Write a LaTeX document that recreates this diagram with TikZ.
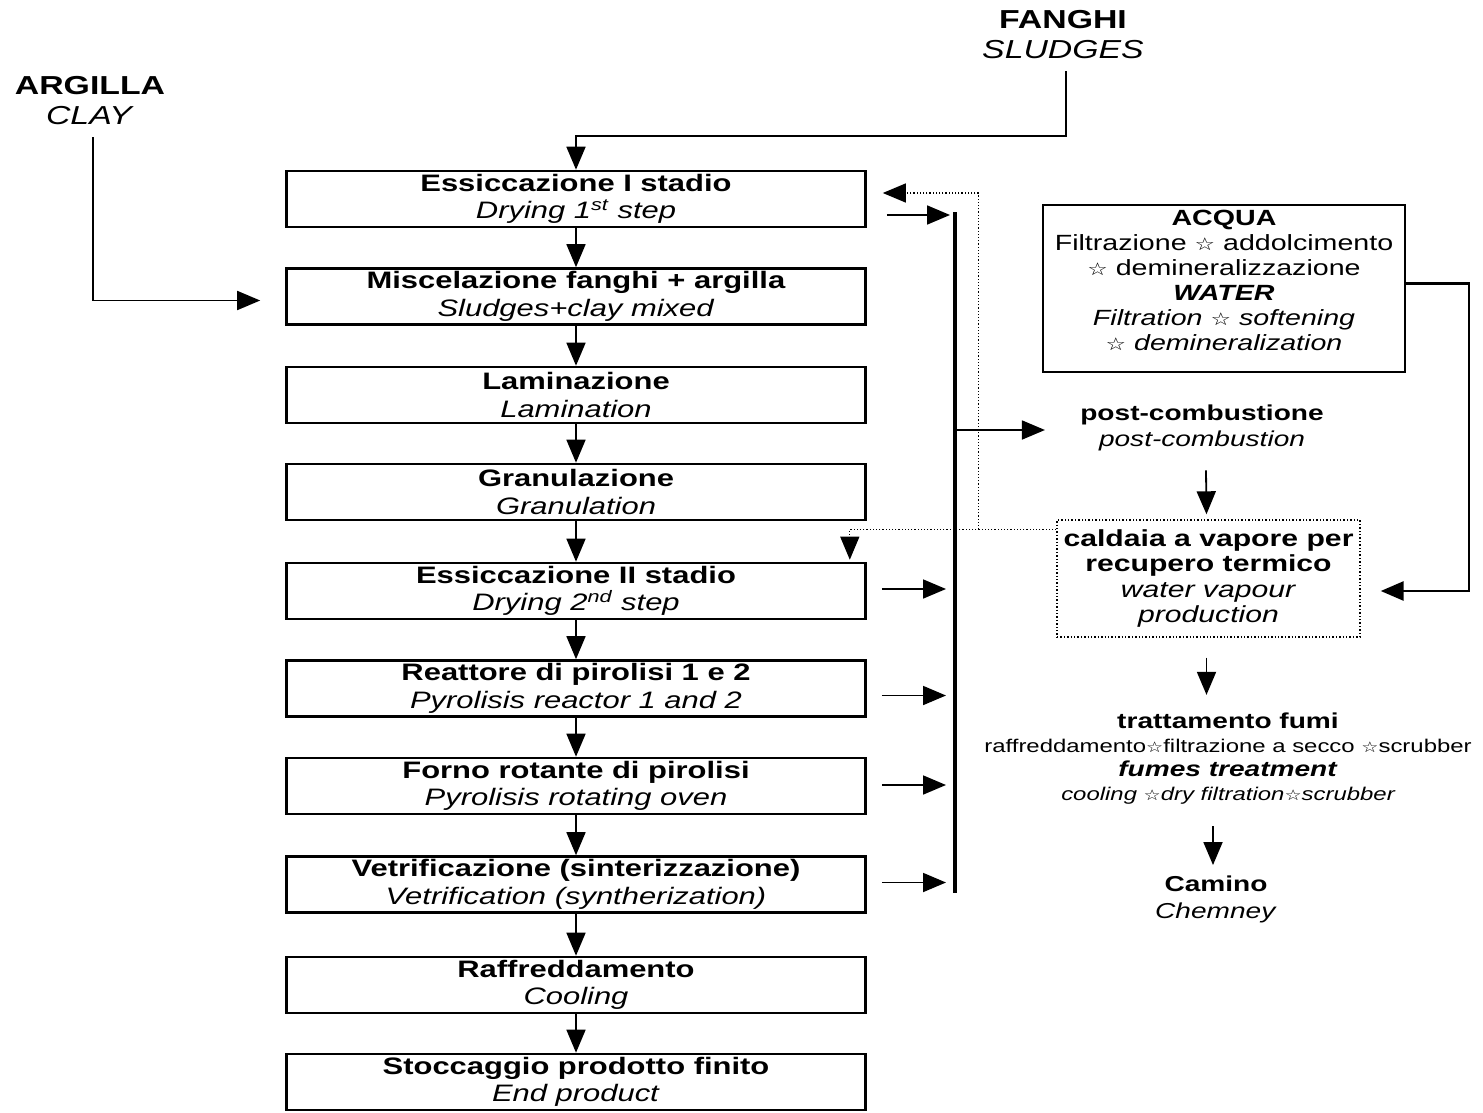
\documentclass[tikz,border=0pt]{standalone}
\usepackage{fontspec}
\usepackage{graphicx}
\setmainfont{Liberation Sans}[FakeStretch=1.3]
\newfontfamily\symf{DejaVu Sans}[FakeStretch=1.3]
\newcommand{\strs}{{\symf\scalebox{0.8}{☆}}}
\usetikzlibrary{arrows.meta,calc}
\tikzset{
  box/.style={draw, line width=1.3pt, minimum width=289.5pt, minimum height=28pt, inner sep=0pt, align=center, font=\fontsize{11.9}{13.7}\selectfont},
  lbl/.style={align=center, inner sep=0pt},
  tip/.style={-{Triangle[length=11.5pt,width=9.5pt]}},
  arr/.style={tip, line width=0.9pt},
  varr/.style={tip, line width=0.8pt},
  dotarr/.style={tip, densely dotted, line width=0.6pt},
  warr/.style={tip, line width=1.4pt},
  coll/.style={line width=1.6pt},
}
\begin{document}
\begin{tikzpicture}[x=0.5pt,y=-0.5pt]
\useasboundingbox[fill=white] (0,0) rectangle (1483,1113);

% inputs
\node[lbl, anchor=north, font=\fontsize{13}{15}\selectfont] (clay) at (90,76) {\textbf{ARGILLA}\\\textit{CLAY}};
\node[lbl, anchor=north, font=\fontsize{13}{15}\selectfont] (sludges) at (1063,10) {\textbf{FANGHI}\\\textit{SLUDGES}};

% main chain
\node[box] (b1) at (576,199) {\textbf{Essiccazione I stadio}\\\textit{Drying 1\textsuperscript{st} step}};
\node[box] (b2) at (576,296.5) {\textbf{Miscelazione fanghi + argilla}\\\textit{Sludges+clay mixed}};
\node[box] (b3) at (576,395) {\textbf{Laminazione}\\\textit{Lamination}};
\node[box] (b4) at (576,492) {\textbf{Granulazione}\\\textit{Granulation}};
\node[box] (b5) at (576,591) {\textbf{Essiccazione II stadio}\\\textit{Drying 2\textsuperscript{nd} step}};
\node[box] (b6) at (576,688.5) {\textbf{Reattore di pirolisi 1 e 2}\\\textit{Pyrolisis reactor 1 and 2}};
\node[box] (b7) at (576,786) {\textbf{Forno rotante di pirolisi}\\\textit{Pyrolisis rotating oven}};
\node[box] (b8) at (576,884.5) {\textbf{Vetrificazione (sinterizzazione)}\\\textit{Vetrification (syntherization)}};
\node[box] (b9) at (576,985) {\textbf{Raffreddamento}\\\textit{Cooling}};
\node[box] (b10) at (576,1082) {\textbf{Stoccaggio prodotto finito}\\\textit{End product}};

% right side
\node[draw, line width=1pt, minimum width=181pt, minimum height=83.5pt, inner sep=0pt, text depth=8pt, align=center, font=\fontsize{11}{12.5}\selectfont] (water) at (1224,288.5)
  {\textbf{ACQUA}\\Filtrazione \strs\ addolcimento\\\strs\ demineralizzazione\\\textbf{\textit{WATER}}\\\textit{Filtration \strs\ softening}\\\textit{\strs\ demineralization}};
\node[lbl, font=\fontsize{10.8}{13}\selectfont] (post) at (1202,428) {\textbf{post-combustione}\\\textit{post-combustion}};
\node[draw, densely dotted, line width=0.7pt, minimum width=151.5pt, minimum height=58.5pt, inner sep=0pt, align=center, font=\fontsize{11.6}{12.6}\selectfont] (cald) at (1208.5,578.5)
  {\textbf{caldaia a  vapore per}\\\textbf{recupero termico}\\\textit{water vapour}\\\textit{production}};
\node[lbl, font=\fontsize{10.8}{12}\selectfont] (fumi) at (1228,759)
  {\textbf{trattamento fumi}\\{\fontsize{9.2}{12}\selectfont raffreddamento\strs filtrazione a secco \strs scrubber}\\\textbf{\textit{fumes treatment}}\\{\fontsize{9.2}{12}\selectfont\itshape cooling \strs dry filtration\strs scrubber}};
\node[lbl, font=\fontsize{10.8}{13.5}\selectfont] (camino) at (1216,899) {\textbf{Camino}\\\textit{Chemney}};

% collector line
\coordinate (ctop) at (955,212);
\coordinate (cbot) at (955,893);
\draw[coll] (ctop) -- (cbot);

% inputs arrows
\draw[arr] ($(clay.south)+(3,12)$) |- ($(b2.west)+(-25,4)$);
\draw[arr] ($(sludges.south)+(3,12)$) |- ($(b1.north)+(0,-34)$) -- (b1.north);

% chain arrows
\draw[varr] (b1.south) -- (b2.north);
\draw[varr] (b2.south) -- (b3.north);
\draw[varr] (b3.south) -- (b4.north);
\draw[varr] (b4.south) -- (b5.north);
\draw[varr] (b5.south) -- (b6.north);
\draw[varr] (b6.south) -- (b7.north);
\draw[varr] (b7.south) -- (b8.north);
\draw[varr] (b8.south) -- (b9.north);
\draw[varr] (b9.south) -- (b10.north);

% arrows to collector
\draw[arr] ($(b1.east)+(20,16)$) -- ($(b1.east -| ctop)+(-5,16)$);
\draw[arr] ($(b5.east)+(15,-2)$) -- ($(b5.east -| ctop)+(-9,-2)$);
\draw[arr] ($(b6.east)+(15,7)$) -- ($(b6.east -| ctop)+(-9,7)$);
\draw[arr] ($(b7.east)+(15,-1)$) -- ($(b7.east -| ctop)+(-9,-1)$);
\draw[arr] ($(b8.east)+(15,-2)$) -- ($(b8.east -| ctop)+(-9,-2)$);

% collector to post-combustion
\draw[arr] ($(post.west -| ctop)+(0,2)$) -- ($(post.west)+(-35,2)$);
\draw[arr] ($(post.south)+(4,19)$) -- ($(cald.north)+(-2,-5)$);
\draw[arr] ($(cald.south)+(-2,20)$) -- ($(cald.south |- fumi.north)+(-2,-18)$);
\draw[arr] ($(fumi.south -| camino.north)+(-3,21)$) -- ($(camino.north)+(-3,-10)$);

% water feed
\draw[warr] ($(water.east)+(0,-5)$) -- ++(63,0) |- ($(cald.east)+(20,12.5)$);

% dotted heat recovery lines
\draw[dotarr] ($(cald.north west)+(0,10)$) -| ($(b5.north east)+(-17,-2)$);
\draw[dotarr] ($(cald.north west)+(-78,10)$) |- ($(b1.east)+(16,-6)$);
\end{tikzpicture}
\end{document}
